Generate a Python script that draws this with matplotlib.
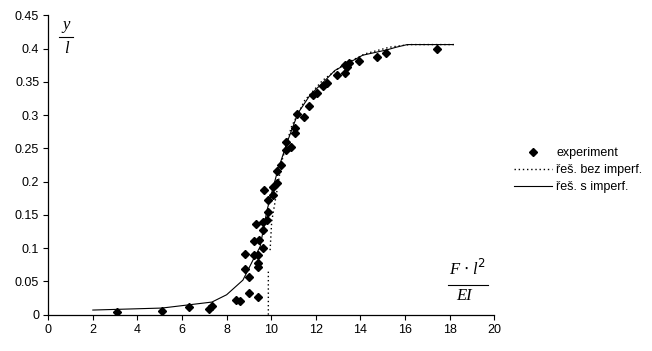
import matplotlib
matplotlib.use("Agg")
import matplotlib.pyplot as plt
from matplotlib.lines import Line2D
import numpy as np

plt.rcParams['font.family'] = ['Liberation Sans', 'DejaVu Sans']

# experiment points (F*l^2/EI, y/l)
exp_x = [3.08, 5.10, 6.31, 7.21, 7.34, 8.42, 8.60, 9.00, 9.40, 9.00,
         8.82, 8.82, 9.22, 9.40, 9.40, 9.40, 9.63, 9.22, 9.45, 9.63,
         9.63, 9.31, 9.81, 9.85, 9.85, 9.67, 10.08, 10.08, 10.26, 10.26,
         10.43, 10.66, 10.88, 10.66, 11.06, 11.06, 11.15, 11.47, 11.69, 11.87,
         12.05, 12.32, 12.50, 12.95, 13.31, 13.40, 13.31, 13.49, 13.93, 14.74,
         15.14, 17.43]
exp_y = [0.004, 0.006, 0.012, 0.009, 0.013, 0.022, 0.021, 0.033, 0.027, 0.057,
         0.069, 0.091, 0.090, 0.090, 0.078, 0.072, 0.100, 0.111, 0.112, 0.127,
         0.139, 0.136, 0.142, 0.154, 0.172, 0.187, 0.180, 0.192, 0.198, 0.216,
         0.225, 0.247, 0.252, 0.259, 0.273, 0.280, 0.301, 0.297, 0.313, 0.330,
         0.333, 0.343, 0.349, 0.360, 0.364, 0.372, 0.375, 0.378, 0.381, 0.388,
         0.394, 0.400]

# solution without imperfection (gap in the curve as in the original)
perf_x = [9.87, 9.87, np.nan, 9.95, 10.02, 10.24, 10.47, 10.9, 11.5, 12.3,
          13.2, 14.2, 15.3, 16.2, 18.3]
perf_y = [0.0, 0.068, np.nan, 0.097, 0.140, 0.183, 0.230, 0.282, 0.322, 0.352,
          0.375, 0.392, 0.402, 0.406, 0.406]

# solution with imperfection
imp_x = [2.0, 5.1, 7.34, 8.0, 8.73, 9.18, 9.5, 9.81, 10.26, 10.7,
         11.2, 11.74, 12.5, 12.85, 14.1, 15.18, 15.6, 16.1, 18.15]
imp_y = [0.007, 0.010, 0.019, 0.030, 0.052, 0.082, 0.102, 0.157, 0.213, 0.258,
         0.303, 0.330, 0.355, 0.367, 0.390, 0.398, 0.402, 0.406, 0.406]

xticks = np.arange(0, 21, 2)
yticks = np.arange(0, 0.451, 0.05)

fig = plt.figure(figsize=(6.52, 3.51), dpi=100)
ax = fig.add_axes([0.074, 0.1034, 0.684, 0.853])

ax.plot(exp_x, exp_y, linestyle='none', marker='D', ms=4.0, color='black',
        label='experiment')
ax.plot(perf_x, perf_y, linestyle=(0, (1, 2)), lw=1.0, color='black',
        label='řeš. bez imperf.')
ax.plot(imp_x, imp_y, linestyle='-', lw=0.8, color='black',
        label='řeš. s imperf.')

ax.set_xlim(0, 20)
ax.set_ylim(0, 0.45)
ax.set_xticks(xticks)
ax.set_yticks(yticks)
ax.set_xticklabels([f'{v:g}' for v in xticks])
ax.set_yticklabels([f'{v:g}' for v in np.round(yticks, 2)])
ax.tick_params(direction='out', length=3.5, width=0.8, labelsize=9, pad=3)
for s in ['top', 'right']:
    ax.spines[s].set_visible(False)
for s in ['left', 'bottom']:
    ax.spines[s].set_linewidth(0.9)

# axis labels as fractions
serif = dict(family='Liberation Serif', style='italic', fontsize=12,
             ha='center', va='center')
fig.text(66 / 652, 1 - 25 / 351, 'y', **serif)
fig.text(66 / 652, 1 - 49 / 351, 'l', **serif)
fig.add_artist(Line2D([59 / 652, 73 / 652], [1 - 37 / 351, 1 - 37 / 351],
                      color='black', lw=0.8))
fig.text(467 / 652, 1 - 269 / 351, r'F $\cdot$ l$^2$', **serif)
fig.text(464 / 652, 1 - 296 / 351, 'EI', **serif)
fig.add_artist(Line2D([448 / 652, 488 / 652], [1 - 285 / 351, 1 - 285 / 351],
                      color='black', lw=0.8))

ax.legend(loc='upper left', bbox_to_anchor=(514 / 652, 1 - 147 / 351),
          bbox_transform=fig.transFigure, frameon=False, fontsize=9,
          handlelength=3.0, handletextpad=0.4, labelspacing=0.4,
          borderpad=0, borderaxespad=0, markerscale=0.9)

fig.savefig('out.png', dpi=100)
